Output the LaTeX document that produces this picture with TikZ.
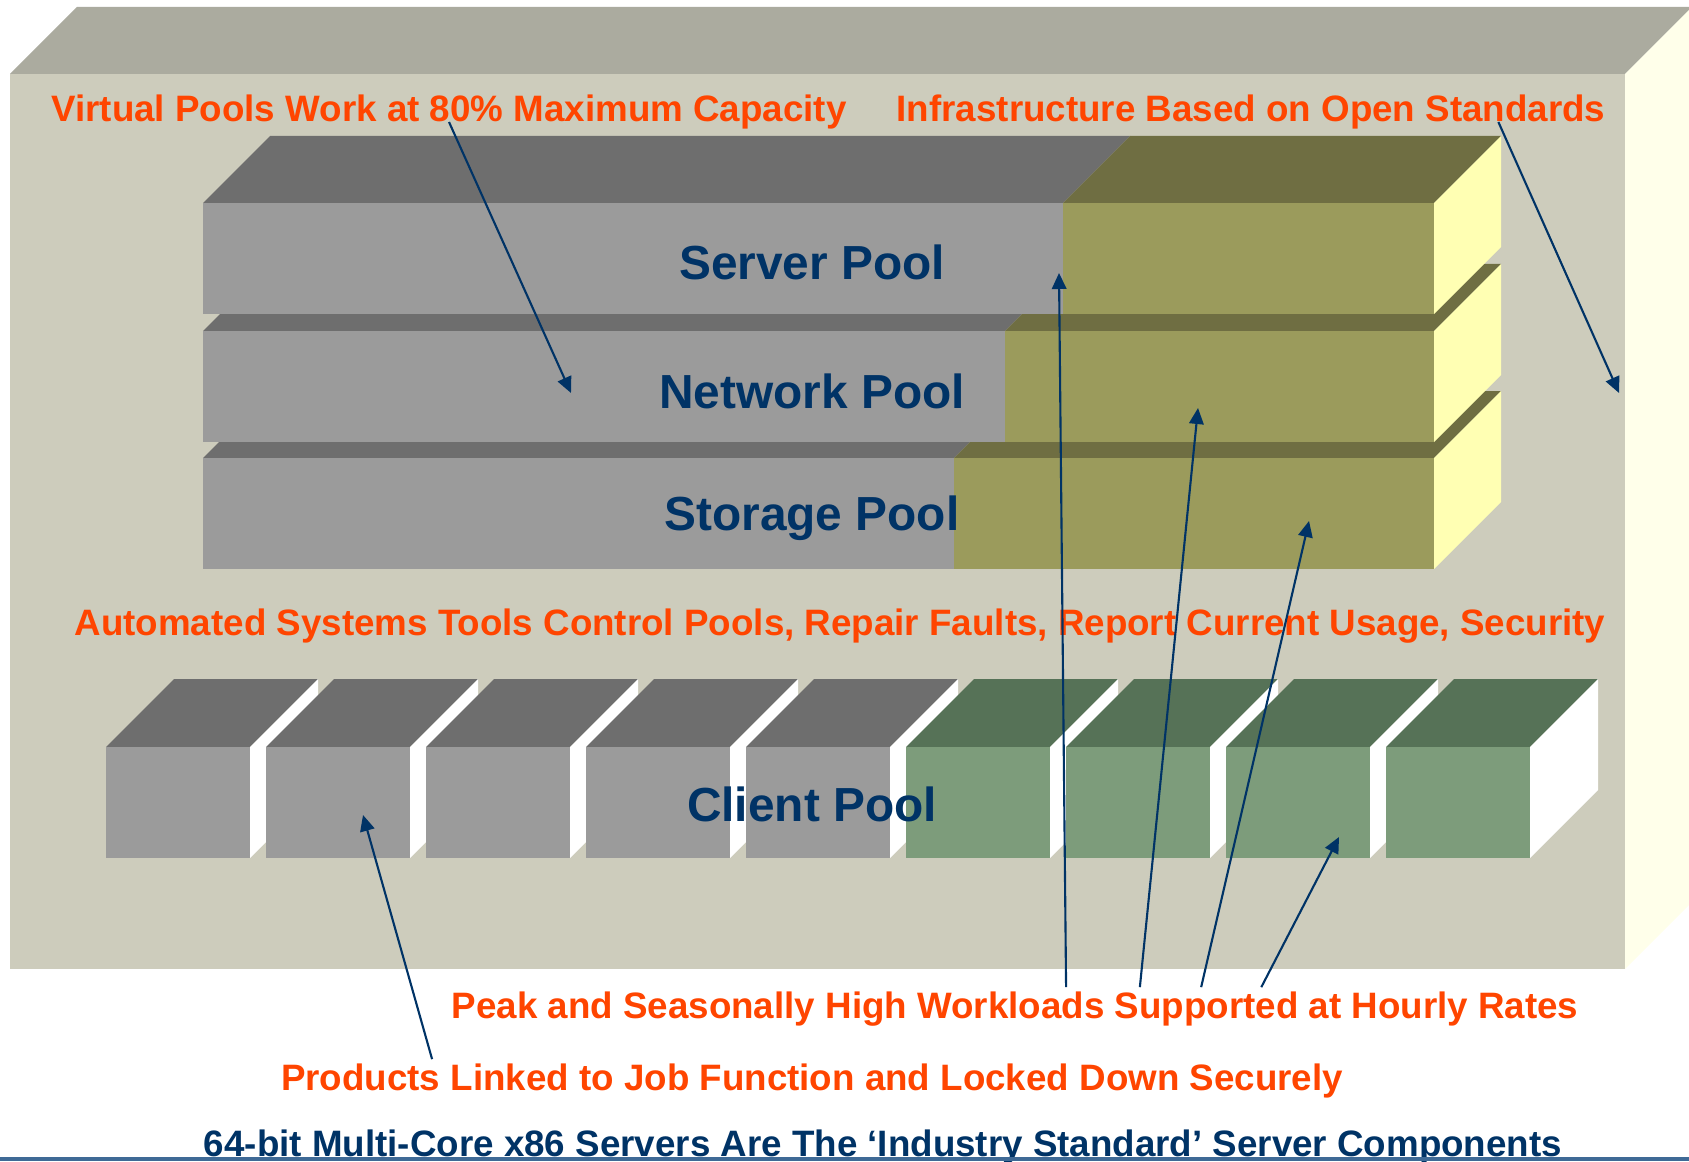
\documentclass[tikz,border=0pt]{standalone}
\usepackage{fontspec}
\setmainfont{Liberation Sans}
\usetikzlibrary{calc, positioning}
\usetikzlibrary{arrows.meta}

\definecolor{shelltop}{RGB}{171,171,159}
\definecolor{shellfront}{RGB}{205,204,188}
\definecolor{shellside}{RGB}{255,255,234}
\definecolor{greytop}{RGB}{110,110,110}
\definecolor{greyfront}{RGB}{155,155,155}
\definecolor{olivetop}{RGB}{111,110,66}
\definecolor{olivefront}{RGB}{155,155,92}
\definecolor{poolside}{RGB}{255,255,179}
\definecolor{greentop}{RGB}{86,114,87}
\definecolor{greenfront}{RGB}{125,156,123}
\definecolor{notecol}{RGB}{255,69,0}
\definecolor{navy}{RGB}{0,51,102}
\definecolor{rulecol}{RGB}{63,106,150}

\begin{document}
\begin{tikzpicture}[x=0.01cm,y=-0.01cm,
  note/.style={text=notecol,font=\fontsize{10.45}{12}\selectfont\bfseries,inner sep=1pt,anchor=base},
  poolname/.style={text=navy,font=\fontsize{13.6}{16}\selectfont\bfseries,inner sep=0pt,anchor=base},
  ptr/.style={navy,line width=0.6pt,-{Triangle[length=1.6mm,width=1.45mm]}}]
\def\ddepth{67}
\useasboundingbox (0,0) rectangle (1689,1161);

% outer shell
\fill[shelltop] (10,74) -- (77,7) -- (1692,7) -- (1625,74) -- cycle;
\fill[shellside] (1625,74) -- (1692,7) -- (1692,902) -- (1625,969) -- cycle;
\fill[shellfront] (10,74) rectangle (1625,969);

% pools, bottom one first so the upper ones cover its top face
\foreach \ya/\xs in {458/954, 331/1005, 203/1063} {
  \pgfmathsetmacro\yb{\ya+111}
  \fill[greytop] (203,\ya) -- ({203+\ddepth},{\ya-\ddepth}) -- ({\xs+\ddepth},{\ya-\ddepth}) -- (\xs,\ya) -- cycle;
  \fill[olivetop] (\xs,\ya) -- ({\xs+\ddepth},{\ya-\ddepth}) -- ({1434+\ddepth},{\ya-\ddepth}) -- (1434,\ya) -- cycle;
  \fill[greyfront] (203,\ya) rectangle (\xs,\yb);
  \fill[olivefront] (\xs,\ya) rectangle (1434,\yb);
  \fill[poolside] (1434,\ya) -- ({1434+\ddepth},{\ya-\ddepth}) -- ({1434+\ddepth},{\yb-\ddepth}) -- (1434,\yb) -- cycle;
}

% client cubes
\foreach \i in {0,...,8} {
  \pgfmathsetmacro\xl{106+160*\i}
  \ifnum\i<5 \def\ctop{greytop}\def\cfront{greyfront}\else\def\ctop{greentop}\def\cfront{greenfront}\fi
  \fill[\ctop] (\xl,747) -- ({\xl+68},679) -- ({\xl+212},679) -- ({\xl+144},747) -- cycle;
  \fill[white] ({\xl+144},747) -- ({\xl+212},679) -- ({\xl+212},790) -- ({\xl+144},858) -- cycle;
  \fill[\cfront] (\xl,747) rectangle ({\xl+144},858);
}

\node[poolname] (server) at (812,280) {Server Pool};
\node[poolname] (network) at (812,408) {Network Pool};
\node[poolname] (storage) at (812,530) {Storage Pool};
\node[poolname] (client) at (812,821) {Client Pool};

\node[note] (virtual) at (449,122) {Virtual Pools Work at 80\% Maximum Capacity};
\node[note] (infra) at (1251,122) {Infrastructure Based on Open Standards};
\node[note] (auto) at (840,635) {Automated Systems Tools Control Pools, Repair Faults, Report Current Usage, Security};
\node[note] (peak) at (1015,1018) {Peak and Seasonally High Workloads Supported at Hourly Rates};
\node[note] (prod) at (812,1090) {Products Linked to Job Function and Locked Down Securely};
\node[note,text=navy] (x86) at (883,1156) {64-bit Multi-Core x86 Servers Are The `Industry Standard' Server Components};

% arrow tips
\coordinate (vp-tip) at (571,393);
\coordinate (os-tip) at (1619,393);
\coordinate (pl-tip) at (363,815);
\coordinate (sv-tip) at (1059,273);
\coordinate (nw-tip) at (1198,408);
\coordinate (st-tip) at (1309,521);
\coordinate (cl-tip) at (1339,837);

\draw[ptr] (virtual.base) -- (vp-tip);
\draw[ptr] ($(infra.base west)!0.845!(infra.base east)$) -- (os-tip);
\draw[ptr] ($(prod.north west)!0.145!(prod.north east)$) -- (pl-tip);
\draw[ptr] ($(peak.north west)!0.545!(peak.north east)$) -- (sv-tip);
\draw[ptr] ($(peak.north west)!0.610!(peak.north east)$) -- (nw-tip);
\draw[ptr] ($(peak.north west)!0.664!(peak.north east)$) -- (st-tip);
\draw[ptr] ($(peak.north west)!0.717!(peak.north east)$) -- (cl-tip);

\fill[rulecol] (0,1157) rectangle (1689,1161);
\end{tikzpicture}
\end{document}
